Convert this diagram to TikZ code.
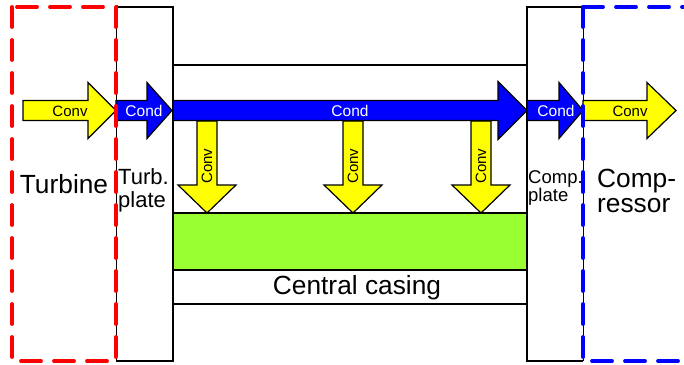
\documentclass[tikz,border=0pt]{standalone}
\usepackage{fontspec}
\setmainfont{Liberation Sans}
\definecolor{heatyellow}{RGB}{255,255,0}
\definecolor{heatblue}{RGB}{0,0,255}
\definecolor{casinggreen}{RGB}{153,255,51}
\definecolor{turbred}{RGB}{255,0,0}
\tikzset{
  wall/.style={line width=2.6pt, black},
  thinwall/.style={line width=1pt, black},
  zone/.style={line width=3.8pt, line cap=round, dash pattern=on 20pt off 13pt},
  flow/.style={draw=black, line width=1.2pt, line join=miter},
  conv/.style={flow, fill=heatyellow},
  cond/.style={flow, fill=heatblue},
  convlbl/.style={font=\fontsize{15}{15}\selectfont, text=black, inner sep=0pt},
  condlbl/.style={font=\fontsize{15.5}{16}\selectfont, text=white, inner sep=0pt},
  biglbl/.style={font=\fontsize{26.3}{25}\selectfont, text=black, inner sep=0pt, align=left},
  platelbl/.style={text=black, inner sep=0pt, align=left},
}
% horizontal block arrow: #1 style, #2 tail x, #3 neck x, #4 tip x, #5 centre y, #6 head half-height
\newcommand{\hflow}[6]{%
  \draw[#1] (#2,#5-10) -- (#3,#5-10) -- (#3,#5-#6) -- (#4,#5) -- (#3,#5+#6)
    -- (#3,#5+10) -- (#2,#5+10) -- cycle;}
% downward block arrow: #1 centre x, #2 top y, #3 neck y, #4 tip y
\newcommand{\dflow}[4]{%
  \draw[conv] (#1-10,#2) -- (#1-10,#3) -- (#1-29,#3) -- (#1,#4) -- (#1+29,#3)
    -- (#1+10,#3) -- (#1+10,#2) -- cycle;}
\begin{document}
\begin{tikzpicture}[x=1pt,y=-1pt]
\useasboundingbox (0,0) rectangle (684,364);
\fill[white] (0,0) rectangle (684,364);

% central casing
\draw[wall] (173,65) -- (527,65);
\draw[wall] (173,304) -- (527,304);
\draw[wall, fill=casinggreen] (173,213) rectangle (527,270);
\node[biglbl] (casing) at (357,288) {Central casing};

% turbine plate
\draw[wall] (116,7) -- (173,7) -- (173,361) -- (116,361);
\draw[thinwall] (116,7) -- (116,361);
% compressor plate
\draw[wall] (583,7) -- (527,7) -- (527,361) -- (583,361);
\draw[thinwall] (583,7) -- (583,361);

% convection from the shaft into the casing
\dflow{207}{121}{185}{213}
\dflow{353}{121}{185}{213}
\dflow{481}{121}{185}{213}
\node[convlbl, rotate=90] (dconv1) at (207,166) {Conv};
\node[convlbl, rotate=90] (dconv2) at (353,166) {Conv};
\node[convlbl, rotate=90] (dconv3) at (481,166) {Conv};

% heat flow along the shaft line
\hflow{conv}{23}{88}{116}{110.5}{28}
\hflow{cond}{116}{147}{172}{110.5}{28}
\hflow{cond}{173}{498}{527}{110.5}{29}
\hflow{cond}{527}{559}{583}{110.5}{28}
\hflow{conv}{583}{647}{676}{110.5}{28}
\node[convlbl] (conv1) at (70,111) {Conv};
\node[condlbl] (cond1) at (144,111) {Cond};
\node[condlbl] (cond2) at (350,111) {Cond};
\node[condlbl] (cond3) at (556,111) {Cond};
\node[convlbl] (conv2) at (630,111) {Conv};

% turbine and compressor zones
\draw[zone, turbred] (12,7) rectangle (116,361);
\draw[zone, heatblue] (583,7) -- (700,7);
\draw[zone, heatblue] (583,7) -- (583,361) -- (700,361);

% zone and plate names
\node[biglbl] (turbine) at (64,184) {Turbine};
\node[platelbl, anchor=west, font=\fontsize{22}{23}\selectfont] (turbplate) at (118,190) {Turb.\\plate};
\node[platelbl, anchor=west, font=\fontsize{18.5}{17.5}\selectfont] (compplate) at (528,188) {Comp.\\plate};
\node[biglbl, anchor=west] (compressor) at (597,191) {Comp-\\ressor};
\end{tikzpicture}
\end{document}
